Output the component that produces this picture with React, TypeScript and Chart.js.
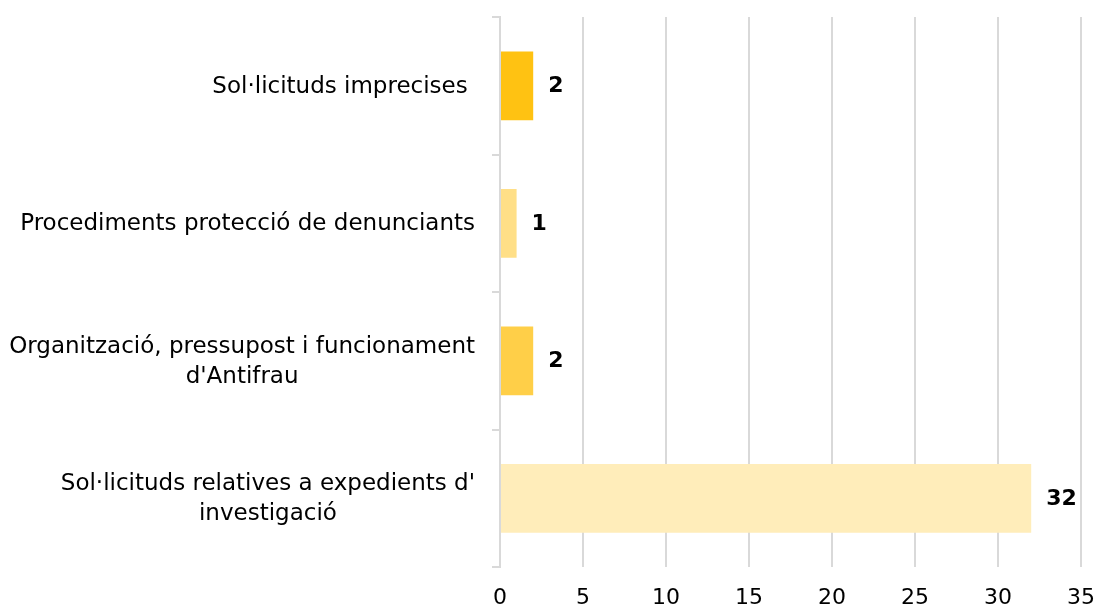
import React, { useEffect, useRef } from "react";
import { Chart, registerables } from "chart.js";

Chart.register(...registerables);

const categories: string[][] = [
  ["Sol·licituds imprecises "],
  ["Procediments protecció de denunciants"],
  ["Organització, pressupost i funcionament", "d'Antifrau"],
  ["Sol·licituds relatives a expedients d'", "investigació"],
];
const values: number[] = [2, 1, 2, 32];
const barColors: string[] = ["#FFC212", "#FFDF87", "#FFCF48", "#FFEDBA"];
const xTicks: number[] = [0, 5, 10, 15, 20, 25, 30, 35];

const FONT = "'DejaVu Sans'";
const LABEL_SIZE = 23;
const TICK_SIZE = 22;
const VALUE_SIZE = 22;

const labelPlugin = {
  id: "customLabels",
  afterDatasetsDraw(chart: any) {
    const ctx = chart.ctx;
    const meta = chart.getDatasetMeta(0);
    const yScale = chart.scales.y;
    ctx.save();
    ctx.font = `bold ${VALUE_SIZE}px ${FONT}`;
    ctx.fillStyle = "#000";
    ctx.textAlign = "left";
    ctx.textBaseline = "middle";
    meta.data.forEach((bar: any, i: number) => {
      ctx.fillText(String(values[i]), bar.x + 15, bar.y + 1);
    });
    ctx.font = `${LABEL_SIZE}px ${FONT}`;
    const right = yScale.right - 25;
    const lineH = 30;
    categories.forEach((lines, i) => {
      const cy = yScale.getPixelForValue(i) + 1;
      const w = Math.max(...lines.map((l) => ctx.measureText(l).width));
      const cx = right - w / 2;
      ctx.textAlign = "center";
      lines.forEach((l, j) => {
        const y = cy + (j - (lines.length - 1) / 2) * lineH;
        ctx.fillText(l, cx, y);
      });
    });
    ctx.restore();
  },
};

export default function App() {
  const ref = useRef<HTMLCanvasElement | null>(null);
  useEffect(() => {
    if (!ref.current) return;
    const chart = new Chart(ref.current, {
      type: "bar",
      data: {
        labels: categories.map((c) => c.join(" ")),
        datasets: [
          {
            data: values,
            backgroundColor: barColors,
            barPercentage: 0.5,
            categoryPercentage: 1,
          },
        ],
      },
      options: {
        indexAxis: "y",
        animation: false,
        responsive: false,
        layout: { padding: { top: 17, right: 15, bottom: 0, left: 0 } },
        plugins: { legend: { display: false }, tooltip: { enabled: false } },
        scales: {
          x: {
            min: 0,
            max: 35,
            afterBuildTicks: (scale: any) => {
              scale.ticks = xTicks.map((v) => ({ value: v }));
            },
            afterFit: (scale: any) => {
              scale.height = 41;
              scale.paddingLeft = 0;
              scale.paddingRight = 0;
            },
            grid: { color: "#D9D9D9", lineWidth: 2, drawTicks: false },
            border: { display: false },
            ticks: {
              color: "#000",
              padding: 18,
              font: { family: FONT, size: TICK_SIZE },
            },
          },
          y: {
            grid: {
              drawOnChartArea: false,
              drawTicks: true,
              tickLength: 8,
              color: "#D9D9D9",
              lineWidth: 2,
            },
            border: { color: "#D9D9D9", width: 2 },
            ticks: { display: false },
            afterFit: (scale: any) => {
              scale.width = 500;
            },
          },
        },
      },
      plugins: [labelPlugin],
    });
    return () => chart.destroy();
  }, []);
  return (
    <div style={{ position: "fixed", left: 0, top: 0, width: 1096, height: 608, background: "#fff" }}>
      <canvas ref={ref} width={1096} height={608} />
    </div>
  );
}
